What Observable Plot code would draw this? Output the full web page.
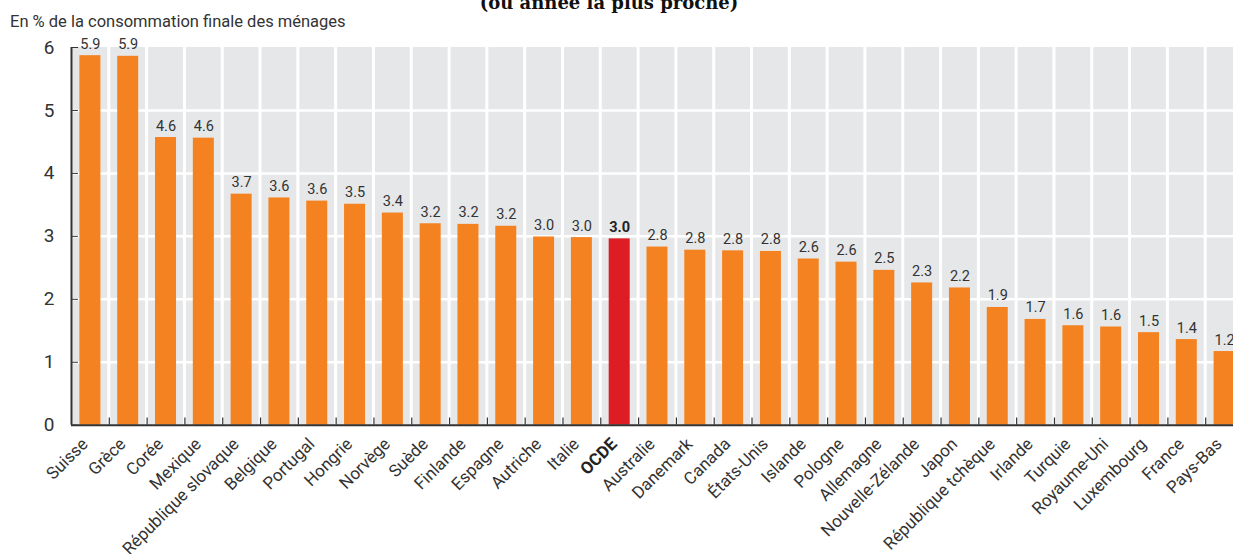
<!DOCTYPE html>
<html>
<head>
<meta charset="utf-8">
<script src="https://cdn.jsdelivr.net/npm/d3@7"></script>
<script src="https://cdn.jsdelivr.net/npm/@observablehq/plot@0.6"></script>
<style>
  html, body { margin: 0; padding: 0; background: #fff; overflow: hidden; }
  #wrap { width: 1233px; height: 554px; overflow: hidden; position: relative; }
  #header { position: relative; height: 30px; }
  #title { position: absolute; top: -8px; left: 0; width: 1218px; text-align: center;
    font-family: "DejaVu Serif", serif; font-weight: bold; font-size: 18px; color: #111; white-space: nowrap; }
  #subtitle { position: absolute; top: 12px; left: 10px;
    font-family: "Roboto", sans-serif; font-size: 16.5px; color: #333; white-space: nowrap; }
  #chart { width: 1243px; }
  #chart svg { max-width: none !important; width: 1243px !important; display: block; }
</style>
</head>
<body>
<div id="wrap">
  <div id="header">
    <div id="title">(ou année la plus proche)</div>
    <div id="subtitle">En % de la consommation finale des ménages</div>
  </div>
  <div id="chart"></div>
</div>
<script>
const countries = ["Suisse","Grèce","Corée","Mexique","République slovaque","Belgique","Portugal","Hongrie","Norvège","Suède","Finlande","Espagne","Autriche","Italie","OCDE","Australie","Danemark","Canada","États-Unis","Islande","Pologne","Allemagne","Nouvelle-Zélande","Japon","République tchèque","Irlande","Turquie","Royaume-Uni","Luxembourg","France","Pays-Bas"];
const values = [5.87,5.86,4.57,4.56,3.67,3.61,3.56,3.51,3.37,3.20,3.19,3.16,2.99,2.98,2.96,2.83,2.78,2.77,2.76,2.64,2.59,2.46,2.26,2.18,1.87,1.68,1.58,1.56,1.47,1.36,1.17];
const highlight = "OCDE";
const yTicks = [0,1,2,3,4,5,6];

const data = countries.map((c, i) => ({country: c, value: values[i]}));
const font = '"Roboto", sans-serif';
const step = (1243 - 71) / countries.length;

const chart = Plot.plot({
  width: 1243,
  height: 524,
  marginLeft: 71,
  marginRight: 0,
  marginTop: 17,
  marginBottom: 129.3,
  style: {fontFamily: font, background: "transparent", maxWidth: "none"},
  x: {domain: countries, padding: 0, round: false, axis: null, label: null},
  y: {domain: [0, 6], axis: null, label: null},
  marks: [
    Plot.barY(countries, {x: d => d, y: () => 6, fill: "#e6e7e8", insetLeft: 1.5, insetRight: 1.5}),
    Plot.ruleY(yTicks.filter(t => t > 0 && t < 6), {stroke: "#fff", strokeWidth: 2.5}),
    Plot.barY(data, {x: "country", y: "value", fill: d => d.country === highlight ? "#dd1c23" : "#f58220",
      insetLeft: (step - 21) / 2, insetRight: (step - 21) / 2}),
    Plot.text(data.filter(d => d.country !== highlight), {x: "country", y: "value", text: d => d.value.toFixed(1),
      lineAnchor: "bottom", dy: -7, fontSize: 14.5, fill: "#333"}),
    Plot.text(data.filter(d => d.country === highlight), {x: "country", y: "value", text: d => d.value.toFixed(1),
      lineAnchor: "bottom", dy: -7, fontSize: 14.5, fill: "#222", fontWeight: "bold"}),
    Plot.ruleX(countries.slice(0, -1), {x: d => d, y1: 0, y2: 0.115, dx: step / 2, stroke: "#333", strokeWidth: 1.2}),
    Plot.ruleY([0], {stroke: "#333", strokeWidth: 2}),
    Plot.ruleX([countries[0]], {x: d => d, y1: 0, y2: 6, dx: -step / 2, stroke: "#333", strokeWidth: 2}),
    Plot.axisY(yTicks, {tickSize: 7, tickPadding: 17, dx: 7, fontSize: 19, tickFormat: d => String(d), label: null,
      stroke: "#333", fill: "#333"}),
    Plot.text(countries.filter(c => c !== highlight), {x: d => d, frameAnchor: "bottom", rotate: -45, textAnchor: "end",
      lineAnchor: "middle", dy: 16, dx: -5.5, fontSize: 17, fill: "#333"}),
    Plot.text([highlight], {x: d => d, frameAnchor: "bottom", rotate: -45, textAnchor: "end",
      lineAnchor: "middle", dy: 16, dx: -5.5, fontSize: 17, fill: "#222", fontWeight: "bold"})
  ]
});
document.getElementById("chart").appendChild(chart);
</script>
</body>
</html>
